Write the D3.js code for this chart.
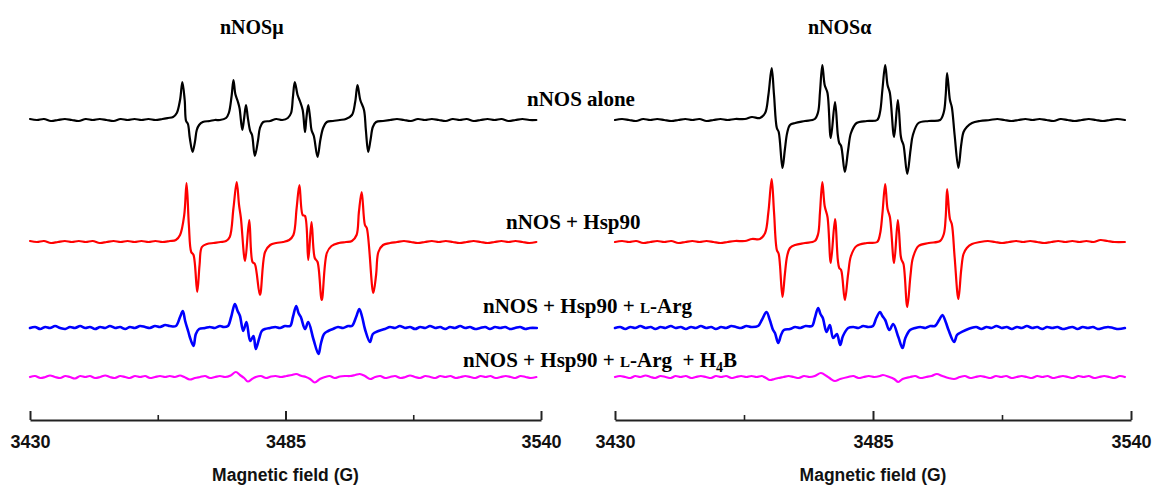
<!DOCTYPE html>
<html>
<head>
<meta charset="utf-8">
<script src="https://cdn.jsdelivr.net/npm/d3@7"></script>
<style>
  html, body { margin: 0; padding: 0; background: #fff; }
  svg { display: block; }
</style>
</head>
<body>
<svg id="chart" width="1155" height="487"></svg>
<script>
// ---------------- DATA (magnetic field in G, signal in arbitrary units) ----------------
const panelTitles = ["nNOSμ", "nNOSα"];
const fieldDomain = [3430, 3540];
const majorTicks = [3430, 3485, 3540];
const minorTicks = [3457.5, 3512.5];
const axisLabel = "Magnetic field (G)";
const seriesNames = ["nNOS alone", "nNOS + Hsp90", "nNOS + Hsp90 + L-Arg", "nNOS + Hsp90 + L-Arg  + H4B"];

// nNOSμ panel
const muAlone = [[3430,1],[3431.5,0],[3433,1],[3434.5,-1],[3436,0],[3437.5,1],[3439,0],[3440.5,-1],[3442,1],[3443.5,0],[3445,1],[3446.5,0],[3448,-1],[3449.5,1],[3451,0],[3452.5,1],[3454,0],[3455.5,1],[3457,0],[3458.5,1],[3459.7,2],[3460.8,3],[3461.6,7],[3462.3,20],[3462.8,38],[3463.3,20],[3463.6,-1],[3464.0,-4],[3464.4,-18],[3465.0,-32],[3465.5,-22],[3465.9,-10],[3466.4,-5],[3467.2,-2],[3468.7,-1],[3469.8,0],[3470.9,0],[3472.2,2],[3472.8,7],[3473.4,24],[3473.8,40],[3474.2,26],[3474.7,19],[3475.1,12],[3475.7,-10],[3476.1,2],[3476.5,15],[3476.9,2],[3477.4,-11],[3477.8,-15],[3478.4,-36],[3479.1,-20],[3479.5,-8],[3480.2,-2],[3481.7,-1],[3483,1],[3484.3,0],[3485.5,2],[3486.2,7],[3486.6,23],[3487.0,38],[3487.6,25],[3488.1,19],[3488.7,10],[3489.2,-12],[3489.5,2],[3489.9,15],[3490.3,2],[3490.6,-10],[3491.1,-16],[3491.9,-37],[3492.5,-20],[3493.1,-8],[3493.9,-2],[3495.2,-1],[3496.7,0],[3498.0,1],[3499.3,5],[3500.0,18],[3500.5,35],[3501.1,20],[3501.9,10],[3502.3,-10],[3502.8,-32],[3503.3,-20],[3503.8,-7],[3504.5,-2],[3506.0,-1],[3507.5,0],[3509,1],[3510.5,0],[3512,-1],[3513.5,1],[3515,0],[3516.5,1],[3518,0],[3519.5,-1],[3521,1],[3522.5,0],[3524,1],[3525.5,-1],[3527,0],[3528.5,1],[3530,0],[3531.5,1],[3533,-1],[3534.5,0],[3536,1],[3537.5,0],[3539,0]];

const muHsp = [[3430,1],[3431.5,0],[3433,1],[3434.5,-1],[3436,0],[3437.5,1],[3439,0],[3440.5,1],[3442,0],[3443.5,1],[3445,-1],[3446.5,0],[3448,1],[3449.5,0],[3451,1],[3452.5,0],[3454,1],[3455.5,0],[3457,1],[3458.5,0],[3460.1,1],[3461.4,2],[3462.3,7],[3463.2,27],[3463.7,59],[3464.2,17],[3464.7,-10],[3465.2,-13],[3466.0,-50],[3466.5,-23],[3467.0,-5],[3468.1,-2],[3469.5,-1],[3471,0],[3472.2,1],[3473.0,5],[3473.8,34],[3474.5,60],[3475.0,37],[3475.4,24],[3476.3,-19],[3477.2,22],[3477.9,-20],[3478.4,-22],[3479.5,-53],[3480.6,-10],[3481.7,-3],[3483,-1],[3484.5,0],[3485.8,2],[3486.7,7],[3487.4,34],[3488.0,57],[3488.7,27],[3489.2,26],[3489.9,-18],[3490.6,20],[3491.3,-16],[3491.9,-20],[3492.8,-58],[3493.9,-11],[3494.9,-4],[3496.5,-1],[3498,0],[3499.3,1],[3500.3,7],[3500.8,30],[3501.4,50],[3502.1,17],[3502.5,14],[3503.9,-51],[3504.5,-33],[3505.0,-10],[3506.0,-3],[3507.5,-1],[3509,0],[3510.5,1],[3512,0],[3513.5,-1],[3515,0],[3516.5,1],[3518,0],[3519.5,1],[3521,0],[3522.5,-1],[3524,0],[3525.5,1],[3527,0],[3528.5,-1],[3530,0],[3531.5,1],[3533,0],[3534.5,1],[3536,0],[3537.5,-1],[3539,0]];

const muArg = [[3430,0],[3431.1,1],[3432.2,-1],[3433.3,1],[3434.3,0],[3435.4,2],[3436.5,0],[3437.6,-1],[3438.6,1],[3439.7,0],[3440.8,2],[3441.9,0],[3442.9,1],[3444.0,-1],[3445.1,1],[3446.2,0],[3447.2,2],[3448.3,0],[3449.4,1],[3450.5,-1],[3451.5,1],[3452.6,0],[3453.7,2],[3454.8,1],[3455.8,0],[3456.9,2],[3458.0,1],[3459.1,3],[3460.1,2],[3461.4,2],[3462.3,11],[3462.9,17],[3463.4,7],[3464.1,-4],[3464.4,-9],[3465.2,-18],[3465.7,-6],[3466.4,-1],[3467.7,0],[3468.7,1],[3469.8,0],[3470.9,2],[3471.7,1],[3472.6,2],[3473.3,11],[3474.1,24],[3474.7,17],[3475.2,12],[3475.9,-3],[3476.6,6],[3477.4,-13],[3478.1,-8],[3478.6,-21],[3479.3,-11],[3479.9,-3],[3480.6,-1],[3481.7,0],[3482.8,1],[3483.8,0],[3484.9,2],[3486.0,2],[3486.6,11],[3487.3,22],[3487.8,15],[3488.3,11],[3489.2,-1],[3489.9,6],[3491.0,-11],[3492.1,-26],[3492.6,-16],[3493.3,-6],[3494.2,-3],[3495.2,-1],[3496.3,1],[3497.4,0],[3498.5,2],[3499.3,2],[3500.2,11],[3500.9,19],[3501.5,11],[3502.1,-1],[3503.2,-14],[3503.8,-6],[3505.0,-3],[3506.4,-1],[3507.5,1],[3508.6,0],[3509.6,2],[3510.7,0],[3511.8,1],[3512.9,-1],[3514.0,1],[3515.1,0],[3516.1,2],[3517.2,0],[3518.3,1],[3519.4,-1],[3520.4,1],[3521.5,0],[3522.6,2],[3523.7,0],[3524.7,1],[3525.8,-1],[3526.9,0],[3528.0,1],[3529.0,-1],[3530.1,1],[3531.2,0],[3532.3,1],[3533.3,-1],[3534.4,0],[3535.5,1],[3536.6,-1],[3537.6,0],[3539.1,0]];

const muH4B = [[3430,0],[3431.1,1],[3432.2,-1],[3433.3,0],[3434.3,1.5],[3435.4,0],[3436.5,-1],[3437.6,1],[3438.6,0],[3439.7,-1.5],[3440.8,1],[3441.9,0],[3442.9,1],[3444,-1],[3445.1,0],[3446.2,1.5],[3447.2,0],[3448.3,-1],[3449.4,1],[3450.5,0],[3451.5,-1],[3452.6,1],[3453.7,0],[3454.8,1],[3455.8,-1],[3456.9,0],[3458,1],[3459.1,0],[3460.1,1],[3461.2,0],[3462.3,1.5],[3463.2,0],[3464.4,-2.5],[3465.5,-1],[3466.6,0],[3467.7,1],[3468.7,-1],[3469.8,0],[3470.9,1],[3472,0],[3473.2,1.5],[3474.3,5],[3475.2,2],[3476.1,-1],[3476.9,-4.5],[3477.8,-2],[3478.6,0],[3479.7,1],[3480.8,-1],[3481.9,0.5],[3482.9,1],[3484,0],[3485.2,1],[3486.4,2],[3487.3,3],[3488.5,1],[3489.4,0],[3490.3,-2],[3491.3,-5.5],[3492.4,-2],[3493.5,0],[3494.5,1],[3495.6,-1],[3496.7,0.5],[3497.8,1],[3498.9,1],[3500.0,2],[3501.0,3],[3502.1,1],[3503.2,-2],[3504.3,0],[3505.4,1],[3506.4,-1],[3507.5,0],[3508.6,1],[3509.7,-1],[3510.8,0],[3511.8,1.5],[3512.9,0],[3514,-1],[3515.1,1],[3516.2,0],[3517.3,-1],[3518.3,1],[3519.4,0],[3520.5,1],[3521.6,-1],[3522.7,0],[3523.7,1],[3524.8,0],[3525.9,-1],[3527,1],[3528.1,0],[3529.1,1],[3530.2,-1],[3531.3,0],[3532.4,1],[3533.5,0],[3534.5,-1],[3535.6,1],[3536.7,0],[3537.8,-1],[3539,0]];

// nNOSα panel
const alphaAlone = [[3430,0],[3431.5,1],[3433,0],[3434.5,-1],[3436,1],[3437.5,0],[3439,1],[3440.5,0],[3442,-1],[3443.5,0],[3445,1],[3446.5,0],[3448,1],[3449.5,-1],[3451,0],[3452.5,1],[3454,0],[3455.6,1],[3457.7,1],[3459.2,3],[3460.9,2],[3462.0,7],[3462.7,25],[3463.4,52],[3463.9,25],[3464.5,-8],[3464.9,-12],[3465.7,-48],[3466.2,-30],[3466.7,-13],[3467.3,-5],[3468.4,-3],[3470.5,-1],[3472.6,1],[3473.3,8],[3473.7,28],[3474.2,55],[3474.7,35],[3475.3,27],[3476.0,-18],[3476.9,18],[3477.5,-15],[3477.8,-23],[3478.2,-26],[3479.0,-52],[3479.7,-30],[3480.3,-13],[3481.5,-3],[3483.7,-1],[3485.9,0],[3486.5,8],[3487.0,30],[3487.6,55],[3488.1,35],[3488.6,27],[3489.5,-17],[3490.3,20],[3490.9,-15],[3491.1,-20],[3491.5,-25],[3492.3,-54],[3493.0,-30],[3493.5,-15],[3494.7,-3],[3496.9,-1],[3499.3,0],[3500.1,8],[3500.5,25],[3500.8,47],[3501.4,20],[3501.8,13],[3502.4,-15],[3503.2,-48],[3503.8,-25],[3504.3,-12],[3505.0,-7],[3506.1,-3],[3507.8,-1],[3509.9,0],[3511.5,1],[3513,0],[3514.5,-1],[3516,0],[3517.5,1],[3519,0],[3520.5,1],[3522,0],[3523.5,-1],[3525,1],[3526.5,0],[3528,-1],[3529.5,0],[3531,1],[3532.5,0],[3534,-1],[3535.5,0],[3537,1],[3538.7,0]];

const alphaHsp = [[3430,0],[3431.5,1],[3433,0],[3434.5,1],[3436,-1],[3437.5,0],[3439,1],[3440.5,0],[3442,1],[3443.5,-1],[3445,0],[3446.5,1],[3448,0],[3449.5,1],[3451,0],[3452.5,-1],[3454,0],[3455.6,1],[3457.7,1],[3459.2,3],[3460.9,3],[3462.0,9],[3462.7,30],[3463.4,63],[3463.9,30],[3464.5,-8],[3464.9,-12],[3465.7,-55],[3466.2,-33],[3466.7,-14],[3467.3,-6],[3468.4,-3],[3470.5,-1],[3472.6,1],[3473.3,8],[3473.7,30],[3474.2,60],[3474.7,36],[3475.3,25],[3476.0,-21],[3476.9,23],[3477.5,-18],[3477.8,-26],[3478.2,-28],[3479.0,-58],[3479.7,-32],[3480.3,-14],[3481.5,-4],[3483.7,-1],[3485.9,0],[3486.5,8],[3487.0,28],[3487.6,58],[3488.1,33],[3488.6,25],[3489.5,-21],[3490.3,22],[3490.9,-14],[3491.1,-18],[3491.5,-22],[3492.3,-65],[3493.0,-33],[3493.5,-16],[3494.7,-4],[3496.9,-1],[3499.3,1],[3500.1,8],[3500.5,25],[3500.8,53],[3501.4,23],[3501.8,18],[3502.4,-15],[3503.2,-57],[3503.8,-28],[3504.3,-12],[3505.0,-6],[3506.1,-2],[3507.8,0],[3509.5,1],[3511,0],[3512.5,-1],[3514,0],[3515.5,1],[3517,0],[3518.5,1],[3520,0],[3521.5,-1],[3523,0],[3524.5,1],[3526,0],[3527.5,1],[3529,0],[3530.5,1],[3532,0],[3533.5,2],[3535,1],[3536.5,0],[3538.7,0]];

const alphaArg = [[3430,0],[3431.1,1],[3432.2,-1],[3433.3,1],[3434.3,0],[3435.4,2],[3436.5,0],[3437.6,1],[3438.6,-1],[3439.7,1],[3440.8,0],[3441.9,2],[3442.9,0],[3444.0,1],[3445.1,-1],[3446.2,1],[3447.2,0],[3448.3,2],[3449.4,0],[3450.5,1],[3451.5,-1],[3452.6,1],[3453.7,0],[3454.8,2],[3455.8,1],[3456.9,0],[3458.0,2],[3459.1,1],[3460.5,2],[3461.3,8],[3462.3,16],[3463.0,8],[3463.7,-2],[3464.1,-5],[3464.8,-15],[3465.4,-7],[3466.0,-2],[3467.3,-1],[3468.4,1],[3469.5,0],[3470.6,2],[3472.0,2],[3472.6,10],[3473.3,20],[3473.8,14],[3474.3,10],[3475.1,-4],[3475.8,3],[3476.5,-10],[3477.3,-6],[3478.0,-17],[3478.6,-8],[3479.7,0],[3480.8,1],[3481.9,0],[3482.9,2],[3484.0,1],[3485.0,2],[3485.7,10],[3486.5,16],[3487.0,12],[3487.6,8],[3488.5,-2],[3489.3,4],[3490.4,-9],[3491.3,-20],[3491.9,-10],[3492.9,-2],[3494.0,0],[3495.1,1],[3496.2,0],[3497.2,2],[3498.2,2],[3499.1,8],[3499.8,13],[3500.5,6],[3501.1,-2],[3502.3,-14],[3502.9,-7],[3503.5,-5],[3504.8,-2],[3505.9,0],[3507.0,1],[3508.1,-1],[3509.2,1],[3510.3,0],[3511.3,2],[3512.4,0],[3513.5,1],[3514.6,-1],[3515.7,1],[3516.7,0],[3517.8,2],[3518.9,0],[3520.0,1],[3521.1,-1],[3522.1,1],[3523.2,0],[3524.3,1],[3525.4,-1],[3526.5,0],[3527.5,1],[3528.6,-1],[3529.7,1],[3530.8,0],[3531.9,1],[3532.9,-1],[3534.0,0],[3535.1,1],[3536.2,0],[3537.3,-1],[3538.7,0]];

const alphaH4B = [[3430,0],[3431.1,1],[3432.2,0],[3433.3,-1],[3434.3,1],[3435.4,0],[3436.5,1.5],[3437.6,0],[3438.6,-1],[3439.7,1],[3440.8,0],[3441.9,-1],[3442.9,1],[3444,0],[3445.1,1],[3446.2,-1],[3447.2,0],[3448.3,1],[3449.4,0],[3450.5,-1],[3451.5,1],[3452.6,0],[3453.7,1],[3454.8,-1],[3455.8,0],[3456.9,1],[3458,0],[3459.1,1],[3460.2,0],[3461.3,1],[3462.2,-1],[3463.0,-3],[3464.0,-2],[3464.8,-1],[3465.9,0],[3467,1],[3468.1,0],[3469.2,-1],[3470.3,1],[3471.5,0],[3472.6,1],[3473.9,4],[3475.1,1],[3476.0,-2],[3476.9,-4],[3478.0,-2],[3479.7,0],[3480.8,1],[3481.9,-1],[3483,0],[3484.1,1],[3485.3,0],[3486.5,1],[3487.1,2],[3488.5,0],[3489.5,-2],[3490.4,-5],[3491.3,-2],[3492.9,0],[3494,1],[3495.1,-1],[3496.3,0],[3497.5,1],[3498.6,3],[3499.8,1],[3501.1,-1],[3502.3,-2],[3503.5,0],[3504.6,1],[3505.7,-1],[3506.8,0],[3507.9,1],[3509,0],[3510.1,-1],[3511.2,1],[3512.3,0],[3513.4,1],[3514.5,-1],[3515.6,0],[3516.7,1],[3517.8,0],[3518.9,-1],[3520,1],[3521.1,0],[3522.2,1],[3523.3,-1],[3524.4,0],[3525.5,1],[3526.6,0],[3527.7,-1],[3528.8,1],[3529.9,0],[3531,1],[3532.1,-1],[3533.2,0],[3534.3,1],[3535.4,0],[3536.5,-1],[3537.6,1],[3538.7,0]];

// ---------------- LAYOUT ----------------
const svg = d3.select("#chart");
const colors = ["#000000", "#ff0000", "#0000ff", "#ff00ff"];
const widths = [2.2, 2.2, 2.6, 2.2];
const baselines = [120, 242, 328, 377];   // pixel row of each trace's zero line
const axisY = 420;
const panels = [
  { title: panelTitles[0], range: [30, 541], titleX: 220, series: [muAlone, muHsp, muArg, muH4B] },
  { title: panelTitles[1], range: [615, 1131], titleX: 808, series: [alphaAlone, alphaHsp, alphaArg, alphaH4B] }
];

panels.forEach(p => {
  const x = d3.scaleLinear().domain(fieldDomain).range(p.range);
  const g = svg.append("g");

  p.series.forEach((data, i) => {
    const y = d3.scaleLinear().domain([0, 100]).range([baselines[i], baselines[i] - 100]);
    const line = d3.line().x(d => x(d[0])).y(d => y(d[1])).curve(d3.curveCatmullRom.alpha(0.5));
    g.append("path")
      .datum(data)
      .attr("d", line)
      .attr("fill", "none")
      .attr("stroke", colors[i])
      .attr("stroke-width", widths[i])
      .attr("stroke-linejoin", "round")
      .attr("stroke-linecap", "round");
  });

  // major axis
  const axis = d3.axisBottom(x).tickValues(majorTicks).tickFormat(d3.format("d"))
    .tickSizeInner(-9).tickSizeOuter(0).tickPadding(15);
  const ag = g.append("g").attr("transform", `translate(0,${axisY})`).call(axis);
  ag.select(".domain").attr("stroke", "#222").attr("stroke-width", 2);
  ag.selectAll(".tick line").attr("stroke", "#222").attr("stroke-width", 2);
  ag.selectAll(".tick text")
    .attr("font-family", "Liberation Sans, Arial, sans-serif")
    .attr("font-weight", "bold").attr("font-size", 18).attr("fill", "#111");

  // minor ticks
  const minor = d3.axisBottom(x).tickValues(minorTicks).tickFormat("")
    .tickSizeInner(-5).tickSizeOuter(0);
  const mg = g.append("g").attr("transform", `translate(0,${axisY})`).call(minor);
  mg.select(".domain").remove();
  mg.selectAll(".tick line").attr("stroke", "#222").attr("stroke-width", 1.6);

  // axis title
  g.append("text")
    .attr("x", (p.range[0] + p.range[1]) / 2)
    .attr("y", 481)
    .attr("text-anchor", "middle")
    .attr("font-family", "Liberation Sans, Arial, sans-serif")
    .attr("font-weight", "bold").attr("font-size", 17.5).attr("fill", "#111")
    .text(axisLabel);

  // panel title
  g.append("text")
    .attr("x", p.titleX).attr("y", 34)
    .attr("font-family", "Liberation Serif, Times New Roman, serif")
    .attr("font-weight", "bold").attr("font-size", 20).attr("fill", "#000")
    .text(p.title);
});

// series labels
const serif = "Liberation Serif, Times New Roman, serif";
function label(xp, yp) {
  return svg.append("text").attr("x", xp).attr("y", yp)
    .attr("font-family", serif).attr("font-weight", "bold").attr("font-size", 21).attr("fill", "#000");
}
label(527, 106).text(seriesNames[0]);
label(506, 229).text(seriesNames[1]);
{
  const t = label(483, 313);
  t.append("tspan").text("nNOS + Hsp90 + ");
  t.append("tspan").attr("font-size", 15).text("L");
  t.append("tspan").text("-Arg");
}
{
  const t = label(463, 367);
  t.style("white-space", "pre");
  t.append("tspan").text("nNOS + Hsp90 + ");
  t.append("tspan").attr("font-size", 15).text("L");
  t.append("tspan").text("-Arg  + H");
  t.append("tspan").attr("font-size", 14).attr("dy", 5).text("4");
  t.append("tspan").attr("dy", -5).text("B");
}
</script>
</body>
</html>
